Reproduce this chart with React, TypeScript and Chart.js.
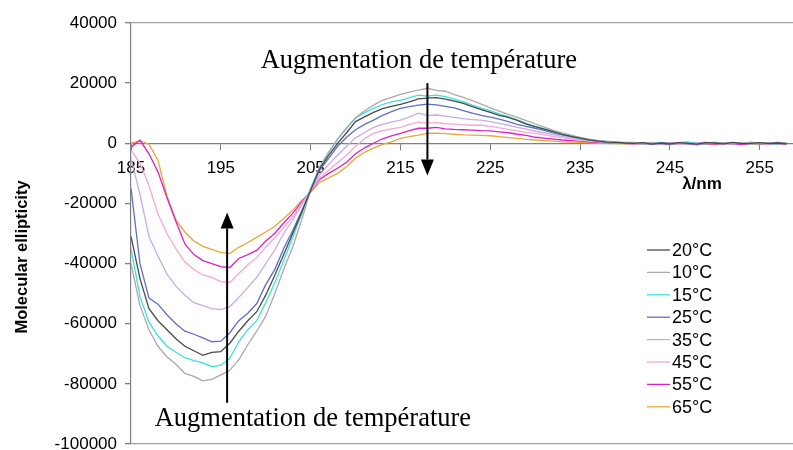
import React, { useEffect, useRef } from 'react';
import { Chart, registerables } from 'chart.js';

Chart.register(...registerables);

// ---- Data ----
const wavelengths = [
  185, 186, 187, 188, 189, 190, 191, 192, 193, 194,
  195, 196, 197, 198, 199, 200, 201, 202, 203, 204,
  205, 206, 207, 208, 209, 210, 211, 212, 213, 214,
  215, 216, 217, 218, 219, 220, 221, 222, 223, 224,
  225, 226, 227, 228, 229, 230, 231, 232, 233, 234,
  235, 236, 237, 238, 239, 240,
  241, 242, 243, 244, 245, 246, 247, 248, 249, 250,
  251, 252, 253, 254, 255, 256, 257, 258,
];

const t20 = [
  -31000, -45000, -55000, -59000, -62000, -65000, -67500, -69000, -70500, -69500,
  -69300, -66500, -62500, -59000, -56000, -50500, -44000, -37000, -30000, -23000,
  -15500, -8500, -4000, 0, 3500, 7200, 8800, 10300, 11500, 12300,
  12900, 13800, 14800, 15000, 15200, 14700, 14000, 13300, 12200, 11200,
  10300, 9300, 8600, 7600, 6400, 5500, 4700, 3900, 3000, 2300,
  1700, 1100, 700, 400, 300, 100,
  0, 200, -300, 100, -200, 200, 0, -300, 200, 100,
  -200, 300, -100, 0, 200, -100, 100, -200,
];

const t10 = [
  -40000, -54000, -62000, -67500, -71000, -73500, -76500, -77500, -79000, -78500,
  -77000, -75500, -72000, -67000, -62500, -57500, -50000, -42000, -34500, -25500,
  -15500, -8000, -3000, 1500, 5000, 8500, 10800, 12700, 14300, 15300,
  16300, 17000, 17700, 18300, 17600, 17300, 16200, 15300, 14200, 13000,
  11800, 10700, 9600, 8600, 7500, 6500, 5400, 4300, 3500, 2700,
  2000, 1400, 1000, 700, 500, 300,
  300, -200, 200, -300, 100, 300, -200, 0, 300, -100,
  200, -200, 100, 300, -100, 200, 0, 100,
];

const t15 = [
  -35000, -51000, -59500, -64000, -67500, -69500, -71300, -72300, -73000, -74300,
  -73800, -71500, -66000, -62000, -59000, -53000, -46500, -39000, -31300, -23500,
  -15000, -8000, -3000, 1200, 5200, 8300, 10200, 11600, 12900, 13800,
  14300, 15200, 16000, 15700, 16000, 15500, 14700, 13800, 12700, 11700,
  10800, 9800, 8900, 7800, 6600, 5600, 4800, 3800, 3000, 2300,
  1600, 1100, 700, 400, 200, 100,
  100, -200, 100, 200, -300, 0, 200, -100, -200, 200,
  0, -100, 300, -200, 100, 0, -300, 200,
];

const t25 = [
  -15000, -40000, -51500, -53500, -57000, -60000, -62500, -63500, -64700, -66000,
  -65800, -63000, -59000, -56500, -53300, -47000, -42000, -35000, -29000, -22500,
  -15500, -9000, -5000, -1000, 2000, 4500, 6300, 7700, 9300, 10500,
  11600, 12200, 12700, 13000, 12800, 12300, 11800, 10900, 10000, 9300,
  8700, 8000, 7200, 6300, 5600, 5000, 4300, 3500, 2800, 2200,
  1600, 1100, 700, 400, 200, 100,
  200, 0, -200, 300, -100, 200, 400, -200, 100, 300,
  -100, 200, 0, 300, -200, 100, 300, 0,
];

const t35 = [
  -5000, -17000, -31000, -37500, -43500, -47500, -50500, -53000, -54000, -55000,
  -55300, -54300, -51300, -48000, -44600, -40000, -35500, -30000, -25600, -20500,
  -15500, -10500, -7000, -4000, -1000, 1800, 3600, 5300, 6300, 7000,
  7700, 8800, 10000, 9300, 9400, 9000, 8600, 8200, 7900, 7700,
  7200, 6600, 6000, 5300, 4700, 4000, 3500, 2900, 2300, 1800,
  1300, 900, 600, 400, 200, 100,
  0, 200, 100, -200, 300, 100, -100, 200, 300, 0,
  200, -100, 100, 300, 100, -200, 200, 100,
];

const t45 = [
  -2300, -6600, -14000, -23500, -30000, -35000, -39500, -42000, -43800, -44600,
  -46000, -46300, -43300, -40500, -38000, -34500, -31500, -28000, -24600, -20000,
  -15800, -11500, -9000, -6500, -4000, -1000, 1500, 3300, 4200, 4800,
  5300, 6300, 7000, 6700, 6900, 6500, 6400, 6200, 6000, 6000,
  5600, 5100, 4600, 4100, 3600, 3300, 2800, 2300, 1800, 1400,
  1000, 700, 500, 300, 200, 100,
  -100, 100, -300, 0, 200, -200, 100, -300, 0, 200,
  -200, 100, -100, 0, 200, -300, 100, 0,
];

const t55 = [
  -1300, 1000, -3500, -9500, -18000, -26000, -33500, -37000, -39000, -40000,
  -41000, -41300, -38300, -37000, -35600, -32500, -30000, -26500, -23300, -19500,
  -16000, -12000, -10000, -8300, -6300, -3500, -1500, 0, 1500, 2500,
  3300, 4200, 5000, 5000, 5300, 4800, 4600, 4500, 4400, 4200,
  4100, 3800, 3500, 3000, 2600, 2000, 1700, 1400, 1100, 900,
  700, 500, 300, 200, 100, 0,
  -200, 0, -300, -100, -400, 0, -200, -500, -100, -300,
  0, -200, -400, -100, 0, -300, -100, -200,
];

const t65 = [
  0, 800, -300, -5600, -17500, -25500, -29500, -32500, -34300, -35300,
  -36300, -36700, -34600, -33000, -31300, -29500, -27700, -25000, -22300, -19000,
  -16300, -13000, -11500, -10000, -7800, -5000, -3000, -1600, -400, 500,
  1600, 2200, 2700, 3300, 3400, 3200, 3000, 2800, 2700, 2600,
  2500, 2200, 1900, 1600, 1300, 1100, 900, 700, 500, 400,
  300, 200, 100, 0, -100, -200,
  0, -200, -100, -300, 0, -200, 100, -300, -100, -400,
  -100, 0, -200, -100, -300, 0, -200, -100,
];

const seriesLabels = ['20°C', '10°C', '15°C', '25°C', '35°C', '45°C', '55°C', '65°C'];
const seriesValues = [t20, t10, t15, t25, t35, t45, t55, t65];
const seriesColors = ['#4a4a4a', '#a9a9a9', '#3ee0dc', '#5d6fc8', '#c9abe6', '#f2a8d8', '#e020c4', '#e8a838'];

const xTickValues = [185, 195, 205, 215, 225, 235, 245, 255];
const yTickValues = [40000, 20000, 0, -20000, -40000, -60000, -80000, -100000];

const xTitle = 'λ/nm';
const yTitle = 'Molecular ellipticity';
const annotationText = 'Augmentation de température';

const SANS = '"Liberation Sans", Arial, sans-serif';
const SERIF = '"Liberation Serif", "Times New Roman", serif';

function drawArrow(ctx: CanvasRenderingContext2D, x: number, yFrom: number, yTip: number) {
  const dir = yTip > yFrom ? 1 : -1;
  const headLen = 16;
  const halfW = 6.5;
  ctx.beginPath();
  ctx.moveTo(x, yFrom);
  ctx.lineTo(x, yTip - dir * headLen);
  ctx.strokeStyle = '#000';
  ctx.lineWidth = 2;
  ctx.stroke();
  ctx.beginPath();
  ctx.moveTo(x, yTip);
  ctx.lineTo(x - halfW, yTip - dir * headLen);
  ctx.lineTo(x + halfW, yTip - dir * headLen);
  ctx.closePath();
  ctx.fillStyle = '#000';
  ctx.fill();
}

const decorPlugin = {
  id: 'decor',
  afterDraw(chart: any) {
    const { ctx, scales } = chart;
    const xs = scales.x;
    const ys = scales.y;
    ctx.save();

    // Y axis title
    ctx.save();
    ctx.translate(22, 257);
    ctx.rotate(-Math.PI / 2);
    ctx.font = `bold 16.5px ${SANS}`;
    ctx.fillStyle = '#000';
    ctx.textAlign = 'center';
    ctx.textBaseline = 'middle';
    ctx.fillText(yTitle, 0, 0);
    ctx.restore();

    // X axis title
    ctx.font = `bold 17px ${SANS}`;
    ctx.fillStyle = '#000';
    ctx.textAlign = 'center';
    ctx.textBaseline = 'middle';
    ctx.fillText(xTitle, 702, 184);

    // Annotations
    ctx.font = `26.5px ${SERIF}`;
    ctx.textAlign = 'center';
    ctx.textBaseline = 'alphabetic';
    ctx.fillText(annotationText, xs.getPixelForValue(217.05), ys.getPixelForValue(25000));
    ctx.fillText(annotationText, xs.getPixelForValue(205.25), ys.getPixelForValue(-94000));

    drawArrow(ctx, xs.getPixelForValue(218), ys.getPixelForValue(20000), ys.getPixelForValue(-10700));
    drawArrow(ctx, xs.getPixelForValue(195.7), ys.getPixelForValue(-86300), ys.getPixelForValue(-23000));

    // Legend
    ctx.font = `18px ${SANS}`;
    ctx.textAlign = 'left';
    ctx.textBaseline = 'middle';
    seriesLabels.forEach((label, i) => {
      const y = 250 + i * 22.4;
      ctx.beginPath();
      ctx.moveTo(647, y);
      ctx.lineTo(670, y);
      ctx.strokeStyle = seriesColors[i];
      ctx.lineWidth = 1.3;
      ctx.stroke();
      ctx.fillStyle = '#000';
      ctx.fillText(label, 672, y + 1);
    });

    ctx.restore();
  },
};

export default function App() {
  const canvasRef = useRef<HTMLCanvasElement | null>(null);

  useEffect(() => {
    document.body.style.margin = '0';
    document.body.style.overflow = 'hidden';
    const canvas = canvasRef.current;
    if (!canvas) return;

    const datasets = seriesLabels.map((label, i) => ({
      label,
      data: wavelengths.map((w, j) => ({ x: w, y: seriesValues[i][j] })),
      borderColor: seriesColors[i],
      backgroundColor: seriesColors[i],
      borderWidth: 1.3,
      pointRadius: 0,
      tension: 0,
      fill: false,
    }));

    const chart = new Chart(canvas, {
      type: 'line',
      data: { datasets },
      plugins: [decorPlugin],
      options: {
        animation: false,
        responsive: false,
        maintainAspectRatio: false,
        layout: { padding: { top: 23, bottom: 6, left: 0, right: 0 } },
        plugins: {
          legend: { display: false },
          tooltip: { enabled: false },
          title: { display: false },
        },
        scales: {
          x: {
            type: 'linear',
            position: { y: 0 } as any,
            min: 185,
            max: 258.7,
            afterBuildTicks: (s: any) => {
              s.ticks = xTickValues.map((v) => ({ value: v }));
            },
            afterFit: (s: any) => {
              s.paddingLeft = 0;
              s.paddingRight = 0;
            },
            ticks: {
              autoSkip: false,
              maxRotation: 0,
              padding: 9,
              color: '#000',
              font: { family: SANS, size: 17 },
              callback: (v: any) => String(v),
            },
            grid: {
              drawOnChartArea: false,
              drawTicks: true,
              tickLength: 6,
              tickColor: '#808080',
            },
            border: { display: true, color: '#808080', width: 1.2 },
          },
          y: {
            type: 'linear',
            position: 'left',
            min: -100000,
            max: 40000,
            afterBuildTicks: (s: any) => {
              s.ticks = yTickValues.map((v) => ({ value: v }));
            },
            afterFit: (s: any) => {
              s.width = 131;
              s.paddingTop = 0;
              s.paddingBottom = 0;
            },
            ticks: {
              padding: 8,
              color: '#000',
              font: { family: SANS, size: 17 },
              callback: (v: any) => String(v),
            },
            grid: {
              drawOnChartArea: true,
              tickLength: 6,
              tickColor: '#808080',
              lineWidth: 1.3,
              color: (c: any) =>
                c.tick && (c.tick.value === 40000 || c.tick.value === -100000)
                  ? '#a0a0a0'
                  : 'rgba(0,0,0,0)',
            },
            border: { display: true, color: '#808080', width: 1.2 },
          },
        },
      },
    });

    return () => chart.destroy();
  }, []);

  return (
    <div style={{ width: 793, height: 450, background: '#fff' }}>
      <canvas ref={canvasRef} width={793} height={450} style={{ display: 'block' }} />
    </div>
  );
}
